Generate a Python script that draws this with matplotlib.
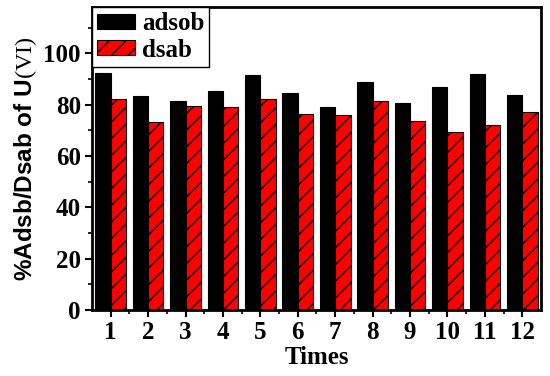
import matplotlib
matplotlib.use("Agg")
import matplotlib.pyplot as plt
import numpy as np
from matplotlib.ticker import MultipleLocator, FixedLocator

times = list(range(1, 13))
adsob = [92.2, 83.5, 81.2, 85.4, 91.5, 84.4, 79.2, 88.6, 80.5, 86.7, 91.8, 83.6]
dsab = [82.1, 73.4, 79.5, 79.0, 82.3, 76.5, 76.0, 81.2, 73.6, 69.5, 72.0, 77.0]

plt.rcParams['hatch.linewidth'] = 1.0
plt.rcParams['mathtext.fontset'] = 'custom'
plt.rcParams['mathtext.rm'] = 'Liberation Serif'

fig = plt.figure(figsize=(5.5, 3.76), dpi=100)
ax = fig.add_axes([0.1673, 0.1755, 0.8163, 0.8059])

x = np.array(times)
w = 0.41
ax.bar(x - w / 2, adsob, width=w, color='black', edgecolor='black', linewidth=0.8, label='adsob')
ax.bar(x + w / 2, dsab, width=w, color='#ff0000', edgecolor='black', linewidth=0.8, hatch='//', label='dsab')

ax.set_xlim(0.5, 12.5)
ax.set_ylim(0, 118)
ax.set_xticks(times)
ax.set_xticklabels([str(t) for t in times])
ax.xaxis.set_minor_locator(FixedLocator(np.arange(1.5, 12.5, 1)))
ax.yaxis.set_major_locator(MultipleLocator(20))
ax.yaxis.set_minor_locator(MultipleLocator(10))
ax.set_yticks(range(0, 101, 20))

serif = 'Liberation Serif'
for lab in ax.get_xticklabels() + ax.get_yticklabels():
    lab.set_fontfamily(serif)
    lab.set_fontweight('bold')
    lab.set_fontsize(18)

ax.tick_params(axis='both', which='major', direction='out', length=5, width=1.5, pad=3)
ax.tick_params(axis='both', which='minor', direction='out', length=3, width=1.2)
ax.tick_params(top=False, right=False, which='both')
for s in ax.spines.values():
    s.set_linewidth(2)

ax.set_xlabel('Times', fontfamily=serif, fontweight='bold', fontsize=18, labelpad=1)
ax.set_ylabel(r'%Adsb/Dsab of U$\mathrm{(VI)}$', fontfamily='Liberation Sans',
              fontweight='bold', fontsize=17.5, labelpad=3)

leg = ax.legend(loc='upper left', prop={'family': serif, 'weight': 'bold', 'size': 18},
                frameon=True, fancybox=False, borderaxespad=0.0, handlelength=1.5,
                handleheight=0.55, labelspacing=0.15, borderpad=0.2, handletextpad=0.3)
leg.get_frame().set_edgecolor('black')
leg.get_frame().set_linewidth(1.0)
leg.get_frame().set_alpha(1)

fig.savefig('out.png', dpi=100)
